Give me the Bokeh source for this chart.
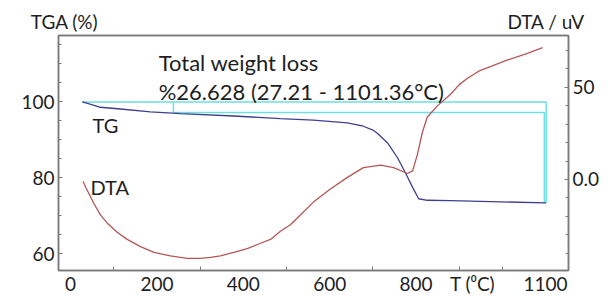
from bokeh.plotting import figure
from bokeh.models import Range1d, LinearAxis, FixedTicker, Label
from bokeh.embed import file_html
from bokeh.resources import INLINE

# ---- data ----
tg_temp = [27, 45, 69, 109, 185, 255, 377, 486, 562, 641, 678, 700, 711, 734, 757, 775, 792, 806, 826, 880, 995, 1101]
tg_mass = [100, 99.4, 98.6, 98.2, 97.4, 96.9, 96.3, 95.6, 95.2, 94.5, 93.6, 92.6, 91.7, 89.2, 85.3, 81.4, 77.5, 74.5, 74.1, 74.0, 73.7, 73.4]

dta_temp = [29, 35, 54, 69, 85, 108, 131, 162, 193, 231, 270, 301, 324, 347, 378, 409, 440, 463, 486, 509, 532, 563, 600, 641, 678, 718, 748, 780, 792, 803, 815, 826, 850, 880, 900, 919, 945, 972, 1012, 1058, 1093]
dta_uv = [-1.1, -4.3, -13.1, -19.3, -23.8, -28.7, -32.6, -36.5, -39.7, -41.5, -42.9, -42.9, -42.4, -41.5, -39.7, -37.6, -34.7, -32.6, -28.2, -24.6, -19.3, -12.2, -5.5, 1.1, 6.4, 7.8, 6.4, 3.2, 4.6, 13.5, 25.9, 33.9, 40.1, 46.3, 51.5, 55.0, 58.8, 61.3, 64.9, 68.5, 71.6]

# weight-loss construction lines (cyan)
loss_outer_t = [27.21, 1101.36, 1101.36]
loss_outer_m = [100, 100, 73.4]
loss_inner_t = [238, 238, 1097, 1097]
loss_inner_m = [100, 97.2, 97.2, 73.4]

x_ticks = [0, 200, 400, 600, 800, 1100]
x_tick_marks = [100, 300, 500, 700, 900, 1000]
x_title_pos = 931
x_title = "T (\u2070C)"
left_ticks = [60, 80, 100]
right_ticks = [0, 50]
right_labels = {0: "0.0", 50: "50"}
head_pos = [-14, 1101]
head_labels = {-14: "TGA (%)", 1101: "DTA / uV"}

FONT = "Lato"
TXT = "#1e1e1e"
AX = "#7a7a7a"

p = figure(width=607, height=297, output_backend="svg", toolbar_location=None,
           x_range=Range1d(-28, 1153), y_range=Range1d(55.6, 117.5),
           min_border_left=58, min_border_right=39, min_border_top=35, min_border_bottom=20)
p.extra_y_ranges = {"dta": Range1d(-49.5, 78.2)}
p.grid.visible = False
p.outline_line_color = AX
p.outline_line_width = 1.5
p.background_fill_color = "white"
p.border_fill_color = "white"


def style(ax, size="19px"):
    ax.axis_line_color = AX
    ax.axis_line_width = 1.5
    ax.major_tick_line_color = AX
    ax.minor_tick_line_color = AX
    ax.major_tick_out = 0
    ax.major_tick_in = 4
    ax.minor_tick_out = 0
    ax.minor_tick_in = 3
    ax.major_label_text_font = FONT
    ax.major_label_text_font_size = size
    ax.major_label_text_color = TXT


# bottom axis (temperature) with its title sitting in the label row
xa = p.xaxis[0]
style(xa)
xa.ticker = FixedTicker(ticks=x_ticks + [x_title_pos], minor_ticks=x_tick_marks)
xa.major_label_overrides = {x_title_pos: x_title}
xa.major_tick_in = 0
xa.minor_tick_in = 4
xa.major_label_standoff = 1

# left axis (TGA)
ya = p.yaxis[0]
style(ya)
ya.ticker = FixedTicker(ticks=left_ticks, minor_ticks=[60 + 5 * i for i in range(12)])
ya.major_label_standoff = 4

# right axis (DTA)
ra = LinearAxis(y_range_name="dta")
style(ra)
ra.ticker = FixedTicker(ticks=right_ticks, minor_ticks=[-40, -30, -20, -10, 10, 20, 30, 40, 60, 70])
ra.major_label_overrides = right_labels
ra.major_label_standoff = 4
p.add_layout(ra, "right")

# top axis: carries the two axis titles
ta = LinearAxis()
style(ta)
ta.ticker = FixedTicker(ticks=head_pos, minor_ticks=[])
ta.major_label_overrides = head_labels
ta.major_tick_in = 0
ta.major_label_standoff = 3
p.add_layout(ta, "above")

# lines
p.line(loss_outer_t, loss_outer_m, line_color="#6ee0e0", line_width=1.5)
p.line(loss_inner_t, loss_inner_m, line_color="#6ee0e0", line_width=1.5)
p.line(tg_temp, tg_mass, line_color="#3f3f92", line_width=1.3)
p.line(dta_temp, dta_uv, y_range_name="dta", line_color="#b55656", line_width=1.3)


def lab(x, y, t, size="22px"):
    p.add_layout(Label(x=x, y=y, text=t, text_font=FONT, text_font_size=size,
                       text_color=TXT, text_align="left", text_baseline="alphabetic"))


lab(204, 110.3, "Total weight loss")
lab(204, 102.8, "%26.628 (27.21 - 1101.36\u00b0C)")
lab(51, 93.8, "TG", "20px")
lab(46, 77.5, "DTA", "20px")

open("out.html", "w").write(file_html(p, INLINE))
